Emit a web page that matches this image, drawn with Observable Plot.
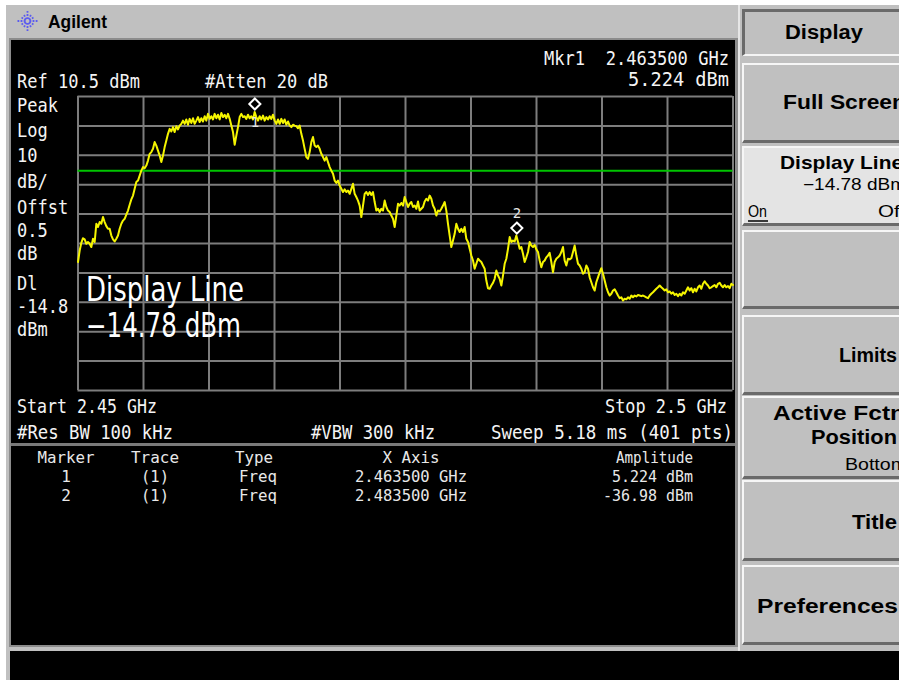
<!DOCTYPE html>
<html><head><meta charset="utf-8">
<script src="https://cdn.jsdelivr.net/npm/d3@7"></script>
<script src="https://cdn.jsdelivr.net/npm/@observablehq/plot@0.6"></script>
<style>
html,body{margin:0;padding:0;}
body{width:899px;height:680px;overflow:hidden;background:#fff;position:relative;}
.abs{position:absolute;box-sizing:border-box;}
</style></head><body>
<div id="app"></div>
<script>
// ---------- data ----------
const startGHz = 2.45, stopGHz = 2.5;
const refLevelDbm = 10.5, dbPerDiv = 10, attenDb = 20, offsetDb = 0.5;
const displayLineDbm = -14.78;
const resBwKHz = 100, vbwKHz = 300, sweepMs = 5.18, sweepPts = 401;
const freqGridGHz = [2.45, 2.455, 2.46, 2.465, 2.47, 2.475, 2.48, 2.485, 2.49, 2.495, 2.5];
const ampGridDbm = [10.5, 0.5, -9.5, -19.5, -29.5, -39.5, -49.5, -59.5, -69.5, -79.5, -89.5];
const traceDbm = [
 -45.8,-41.9,-39.3,-37.7,-38.1,-39.6,-39.0,-39.6,-40.7,-37.9,
 -39.0,-32.8,-33.9,-32.2,-32.8,-30.5,-32.2,-33.6,-34.5,-34.5,
 -36.8,-38.1,-38.8,-37.9,-36.8,-34.5,-32.8,-31.7,-31.1,-29.7,
 -28.3,-26.3,-24.5,-23.2,-20.9,-18.6,-18.1,-16.4,-14.7,-13.5,
 -13.9,-13.0,-11.3,-9.0,-8.4,-7.3,-5.0,-6.2,-7.9,-9.6,
 -11.8,-9.6,-6.7,-4.5,-2.2,-0.5,-1.4,0.1,-1.6,0.4,
 -0.7,0.6,1.2,2.3,1.2,2.7,0.9,2.9,1.5,3.1,
 1.2,2.3,3.5,1.8,3.1,2.0,3.8,2.3,4.6,2.9,
 3.8,2.7,4.6,3.1,4.3,2.7,4.9,3.5,4.3,3.1,
 4.6,2.9,0.6,-1.6,-5.9,-2.8,0.1,3.5,4.6,3.5,
 3.8,2.9,4.3,3.1,3.8,2.7,5.2,3.5,2.3,3.8,
 2.7,4.0,2.3,3.5,2.7,3.8,2.9,4.3,2.3,1.2,
 2.7,1.2,2.9,1.5,2.7,0.9,2.0,0.6,0.1,0.9,
 0.6,
 0.4,-0.3,0.6,-2.2,-4.5,-7.3,-10.1,-10.7,-8.4,-5.0,
 -3.3,-6.2,-6.7,-6.2,-7.3,-9.0,-10.1,-11.3,-10.1,-11.8,
 -13.5,-14.7,-15.8,-18.1,-18.9,-18.1,-19.8,-20.9,-22.0,-21.1,
 -22.0,-21.5,-22.6,-20.9,-19.2,-22.6,-23.7,-24.9,-26.6,-30.5,
 -26.6,-22.6,-22.0,-23.0,-22.0,-23.0,-22.0,-25.4,-28.3,-27.7,
 -28.8,-27.7,-28.3,-24.9,-27.1,-28.3,-28.8,-30.0,-31.1,-33.9,
 -30.0,-26.0,-26.6,-25.7,-26.6,-23.7,-25.4,-27.1,-26.0,-25.4,
 -27.1,-26.6,-27.7,-25.2,-28.3,-27.7,-27.1,-25.2,-24.3,-24.9,
 -23.2,-24.3,-26.6,-27.7,-30.0,-28.3,-28.6,-27.7,-26.6,-25.4,
 -28.3,-32.8,-36.8,-40.7,-38.5,-36.2,-32.8,-34.5,-35.6,-34.5,
 -35.6,-33.9,-37.9,-39.0,-41.3,-43.6,-45.3,-48.1,-46.4,-44.7,
 -45.3,-45.8,-47.0,-48.1,-52.1,-54.7,-54.9,-53.8,-52.9,-51.5,
 -48.7,-50.4,-51.5,-53.8,-50.4,-46.4,-44.7,-41.3,-37.3,-39.0,
 -38.5,-38.8,
 -36.8,-39.0,-41.3,-40.7,-43.0,-45.8,-44.2,-42.4,-39.0,-40.2,
 -40.7,-40.0,-41.5,-42.4,-45.3,-47.6,-45.8,-45.3,-44.2,-43.6,
 -42.7,-45.8,-49.3,-45.8,-44.7,-44.2,-43.6,-42.4,-40.7,-45.3,
 -47.0,-44.7,-44.9,-44.5,-42.4,-40.2,-43.6,-46.4,-47.0,-48.1,
 -49.8,-49.3,-47.0,-48.1,-51.0,-52.7,-54.4,-55.5,-52.7,-51.0,
 -49.3,-47.9,-49.8,-52.1,-54.4,-56.1,-57.2,-56.6,-55.5,-55.1,
 -56.1,-57.2,-58.1,-57.8,-58.9,-58.3,-58.5,-57.8,-58.3,-57.2,
 -57.8,-57.2,-57.5,-57.0,-57.2,-57.4,-57.2,-57.5,-57.8,-58.1,
 -57.2,-56.6,-56.1,-55.5,-54.9,-54.4,-53.8,-54.4,-54.9,-55.5,
 -55.1,-56.1,-55.8,-56.6,-56.1,-57.0,-56.6,-57.4,-56.6,-57.2,
 -56.1,-56.6,-55.5,-54.4,-55.5,-54.7,-56.1,-54.9,-55.8,-54.4,
 -53.8,-54.9,-53.2,-52.4,-53.2,-53.8,-54.7,-54.4,-54.0,-53.6,
 -54.4,-53.2,-52.9,-53.8,-54.4,-53.6,-54.4,-54.0,-54.7,-53.2,
 -53.6
];
const markerIds = [1, 2];
const markerFreqGHz = [2.4635, 2.4835];
const markerAmpDbm = [5.224, -36.98];
const tableHeaders = ["Marker", "Trace", "Type", "X Axis", "Amplitude"];
const softkeyLabels = ["Full Screen", "Display Line", "", "Limits", "Active Fctn|Position", "Title", "Preferences"];

// ---------- derived tables ----------
const nPts = traceDbm.length;
const trace = traceDbm.map((a, i) => ({f: startGHz + (stopGHz - startGHz) * i / (nPts - 1), a}));
const markers = markerIds.map((id, i) => ({id, f: markerFreqGHz[i], a: markerAmpDbm[i]}));

const MONO = "'DejaVu Sans Mono', monospace";
const SANS = "'Liberation Sans', Arial, sans-serif";
const app = document.getElementById("app");
function box(l, t, w, h, css) {
  const d = document.createElement("div");
  d.className = "abs";
  Object.assign(d.style, {left: l + "px", top: t + "px", width: w + "px", height: h + "px"}, css || {});
  app.appendChild(d);
  return d;
}

// ---------- chrome ----------
box(6, 5, 893, 675, {background: "#c0c0c0"});
box(9, 38, 729, 609, {background: "#8c8c8c"});
box(11, 40, 724, 605, {background: "#000"});
box(11, 443, 724, 3, {background: "#7a7a7a"});
box(10, 651, 889, 29, {background: "#000"});
box(738, 5, 2, 646, {background: "#e6e6e6"});
box(742, 9, 170, 47, {background: "#c0c0c0", borderTop: "3px solid #6a6a6a", borderLeft: "3px solid #6a6a6a", borderBottom: "2px solid #f4f4f4"});
const keyBoxes = [[63, 80], [146, 80], [230, 79], [315, 80], [396, 83], [480, 81], [565, 80]];
keyBoxes.forEach(([t, h], i) => box(742, t, 170, h, {
  background: i === 1 ? "#e4e4e4" : "#c0c0c0",
  borderTop: "2px solid #f6f6f6", borderLeft: "2px solid #f6f6f6", borderBottom: "3px solid #6a6a6a"
}));

// ---------- plot ----------
const plotWrap = box(11, 40, 724, 405, {});
const chart = Plot.plot({
  width: 724, height: 405,
  marginLeft: 66.5, marginRight: 2.5, marginTop: 56, marginBottom: 55,
  style: {background: "transparent", overflow: "visible"},
  x: {domain: [startGHz, stopGHz], axis: null},
  y: {domain: [refLevelDbm - 10 * dbPerDiv, refLevelDbm], axis: null},
  marks: [
    Plot.ruleX(freqGridGHz, {stroke: "#7d7d7d", strokeWidth: 2}),
    Plot.ruleY(ampGridDbm, {stroke: "#7d7d7d", strokeWidth: 2}),
    Plot.ruleY([displayLineDbm], {stroke: "#00c400", strokeWidth: 2}),
    Plot.line(trace, {x: "f", y: "a", stroke: "#f5f500", strokeWidth: 2}),
    Plot.dot(markers, {x: "f", y: "a", symbol: "diamond2", r: 5, stroke: "#ffffff", strokeWidth: 2, fill: "none", dy: -8}),
    Plot.text(markers.filter(d => d.id === 1), {x: "f", y: "a", text: d => String(d.id), dy: 11, fill: "#e6e6e6", fontSize: 14, fontFamily: MONO}),
    Plot.text(markers.filter(d => d.id === 2), {x: "f", y: "a", text: d => String(d.id), dy: -23, fill: "#e6e6e6", fontSize: 14, fontFamily: MONO})
  ]
});
plotWrap.appendChild(chart);

// ---------- text overlay ----------
const svg = d3.create("svg").attr("width", 899).attr("height", 680)
  .style("position", "absolute").style("left", "0px").style("top", "0px").style("pointer-events", "none");
app.appendChild(svg.node());
function txt(x, y, s, o = {}) {
  const t = svg.append("text").attr("x", x).attr("y", y).text(s)
    .attr("font-family", o.family || MONO).attr("font-size", o.size || 19)
    .attr("fill", o.fill || "#f4f4f4").attr("text-anchor", o.anchor || "start")
    .style("white-space", "pre");
  if (o.weight) t.attr("font-weight", o.weight);
  if (o.len) t.attr("textLength", o.len).attr("lengthAdjust", "spacingAndGlyphs");
  return t;
}
// logo
const lg = svg.append("g").attr("transform", "translate(27.5,21)");
for (let k = 0; k < 12; k++) {
  const ang = k * Math.PI / 6, r = k % 3 === 0 ? 10.5 : 8;
  lg.append("line").attr("x1", 2 * Math.cos(ang)).attr("y1", 2 * Math.sin(ang))
    .attr("x2", r * Math.cos(ang)).attr("y2", r * Math.sin(ang))
    .attr("stroke", "#5b5bf0").attr("stroke-width", 1.8).attr("stroke-dasharray", "1.8,1.3");
}
txt(48, 28, "Agilent", {family: SANS, weight: "bold", size: 18, fill: "#000", len: 59});

// screen annotations
txt(17, 88, `Ref ${refLevelDbm} dBm`, {len: 123});
txt(205, 88, `#Atten ${attenDb} dB`, {len: 123});
txt(729, 65, `Mkr1  ${markerFreqGHz[0].toFixed(6)} GHz`, {anchor: "end", len: 185});
txt(729, 86, `${markerAmpDbm[0]} dBm`, {anchor: "end", len: 101});
const leftLabels = [["Peak", 112], ["Log", 137], [String(dbPerDiv), 162], ["dB/", 188], ["Offst", 214], [String(offsetDb), 237], ["dB", 260], ["Dl", 290], [displayLineDbm.toFixed(1), 313], ["dBm", 336]];
leftLabels.forEach(([s, y]) => txt(17, y, s, {len: s.length * 10.25}));
txt(17, 413, `Start ${startGHz} GHz`, {len: 140});
txt(727, 413, `Stop ${stopGHz} GHz`, {anchor: "end", len: 122});
txt(17, 439, `#Res BW ${resBwKHz} kHz`, {len: 156});
txt(311, 439, `#VBW ${vbwKHz} kHz`, {len: 124});
txt(733, 439, `Sweep ${sweepMs} ms (${sweepPts} pts)`, {anchor: "end", len: 242});

// big active function readout
txt(86, 301, "Display Line", {family: "'DejaVu Sans', sans-serif", size: 33, len: 158, fill: "#fff"});
txt(86, 337, `\u2212${Math.abs(displayLineDbm)} dBm`, {family: "'DejaVu Sans', sans-serif", size: 33, len: 155, fill: "#fff"});

// marker table
const TF = {size: 16, fill: "#e8e8e8"};
txt(66, 463, tableHeaders[0], {...TF, anchor: "middle", len: 57});
txt(155, 463, tableHeaders[1], {...TF, anchor: "middle", len: 48});
txt(254, 463, tableHeaders[2], {...TF, anchor: "middle", len: 38});
txt(411, 463, tableHeaders[3], {...TF, anchor: "middle", len: 57});
txt(693, 463, tableHeaders[4], {...TF, anchor: "end", len: 77});
markers.forEach((m, i) => {
  const y = 482 + i * 19;
  txt(66, y, String(m.id), {...TF, anchor: "middle"});
  txt(155, y, "(1)", {...TF, anchor: "middle", len: 28});
  txt(258, y, "Freq", {...TF, anchor: "middle", len: 38});
  txt(411, y, `${m.f.toFixed(6)} GHz`, {...TF, anchor: "middle", len: 112});
  const s = `${m.a} dBm`;
  txt(693, y, s, {...TF, anchor: "end", len: s.length * 9});
});

// softkeys
const KB = {family: SANS, weight: "bold", size: 20, fill: "#000"};
const KR = {family: SANS, size: 16, fill: "#000"};
txt(824, 39, "Display", {...KB, anchor: "middle", len: 78});
txt(783, 109, softkeyLabels[0], {...KB, len: 123});
txt(780, 169, softkeyLabels[1], {...KB, size: 19, len: 123});
txt(803, 190, `\u2212${Math.abs(displayLineDbm)} dBm`, {...KR, len: 103});
txt(748, 217, "On", {...KR, len: 19});
svg.append("line").attr("x1", 748).attr("x2", 768).attr("y1", 221).attr("y2", 221).attr("stroke", "#000").attr("stroke-width", 1.5);
txt(878, 217, "Off", {...KR, len: 27});
txt(897, 362, softkeyLabels[3], {...KB, anchor: "end", len: 58});
const af = softkeyLabels[4].split("|");
txt(773, 420, af[0], {...KB, len: 132});
txt(897, 444, af[1], {...KB, anchor: "end", len: 86});
txt(845, 470, "Bottom", {...KR, size: 17, len: 62});
txt(897, 529, softkeyLabels[5], {...KB, anchor: "end", len: 45});
txt(757, 613, softkeyLabels[6], {...KB, len: 141});
</script>
</body></html>
